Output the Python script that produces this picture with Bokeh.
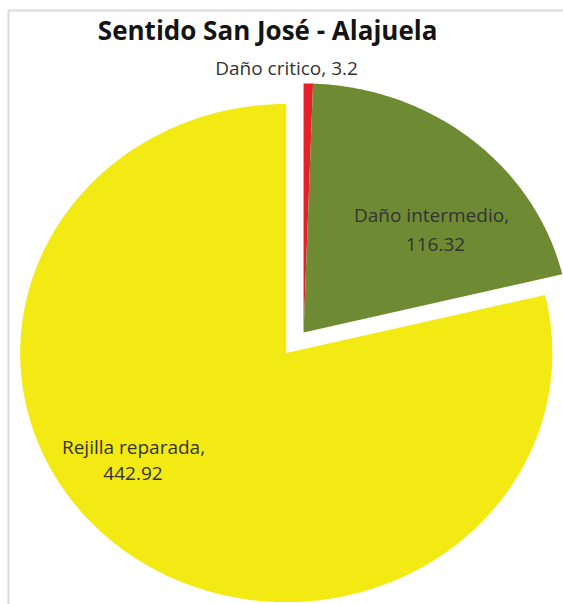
import numpy as np
from bokeh.plotting import figure
from bokeh.models import Range1d, BoxAnnotation
from bokeh.core.properties import value
from bokeh.embed import file_html
from bokeh.resources import INLINE

# ---- data ----
categories = ["Daño critico", "Daño intermedio", "Rejilla reparada"]
values = [3.2, 116.32, 442.92]
value_labels = ["3.2", "116.32", "442.92"]
colors = ["#E5202A", "#6E8B33", "#F3EA14"]
explode = [0.0, 0.0, 0.105]

title_text = "Sentido San José - Alajuela"
FONT = "Open Sans"

W, H = 563, 604
p = figure(width=W, height=H, output_backend="svg", toolbar_location=None,
           x_range=Range1d(-1.139, 0.977), y_range=Range1d(-1.092, 1.333),
           min_border=0)
p.axis.visible = False
p.grid.visible = False
p.outline_line_color = None
p.background_fill_color = "white"
p.border_fill_color = "white"

# slices (clockwise from 12 o'clock, as in the original spreadsheet chart)
total = float(sum(values))
starts = np.concatenate([[0.0], np.cumsum(values)[:-1]]) / total * 2 * np.pi
ends = np.cumsum(values) / total * 2 * np.pi
xs, ys = [], []
for a0, a1, ex in zip(starts, ends, explode):
    mid = (a0 + a1) / 2
    cx, cy = ex * np.sin(mid), ex * np.cos(mid)
    t = np.linspace(a0, a1, max(4, int((a1 - a0) * 120)))
    xs.append(list(np.concatenate([[cx], cx + np.sin(t), [cx]])))
    ys.append(list(np.concatenate([[cy], cy + np.cos(t), [cy]])))
p.patches(xs, ys, fill_color=colors, line_color=None)

# chart-area border (gray frame running off the right/bottom edges)
p.add_layout(BoxAnnotation(left=-1.109, top=1.293, right=1.0, bottom=-1.12,
                           fill_color=None, fill_alpha=0,
                           line_color="#808080", line_width=2))

# title
p.text(x=[-0.135], y=[1.213], text=[title_text], text_font=value(FONT),
       text_font_style="bold", text_font_size="26px", text_color="#141414",
       text_align="center", text_baseline="alphabetic")

# data labels
name_x = [-0.064, 0.481, -0.639]
name_y = [1.060, 0.470, -0.458]
val_x = [None, 0.496, -0.641]
val_y = [None, 0.353, -0.566]
LBL = "19px"
TXT = "#333333"

one_line = [f"{categories[0]}, {value_labels[0]}"]
p.text(x=[name_x[0]], y=[name_y[0]], text=one_line, text_font=value(FONT),
       text_font_size=LBL, text_color=TXT, text_align="center",
       text_baseline="alphabetic")
p.text(x=name_x[1:], y=name_y[1:], text=[c + "," for c in categories[1:]],
       text_font=value(FONT), text_font_size=LBL, text_color=TXT,
       text_align="center", text_baseline="alphabetic")
p.text(x=val_x[1:], y=val_y[1:], text=value_labels[1:],
       text_font=value(FONT), text_font_size=LBL, text_color=TXT,
       text_align="center", text_baseline="alphabetic")

open("out.html", "w").write(file_html(p, INLINE))
